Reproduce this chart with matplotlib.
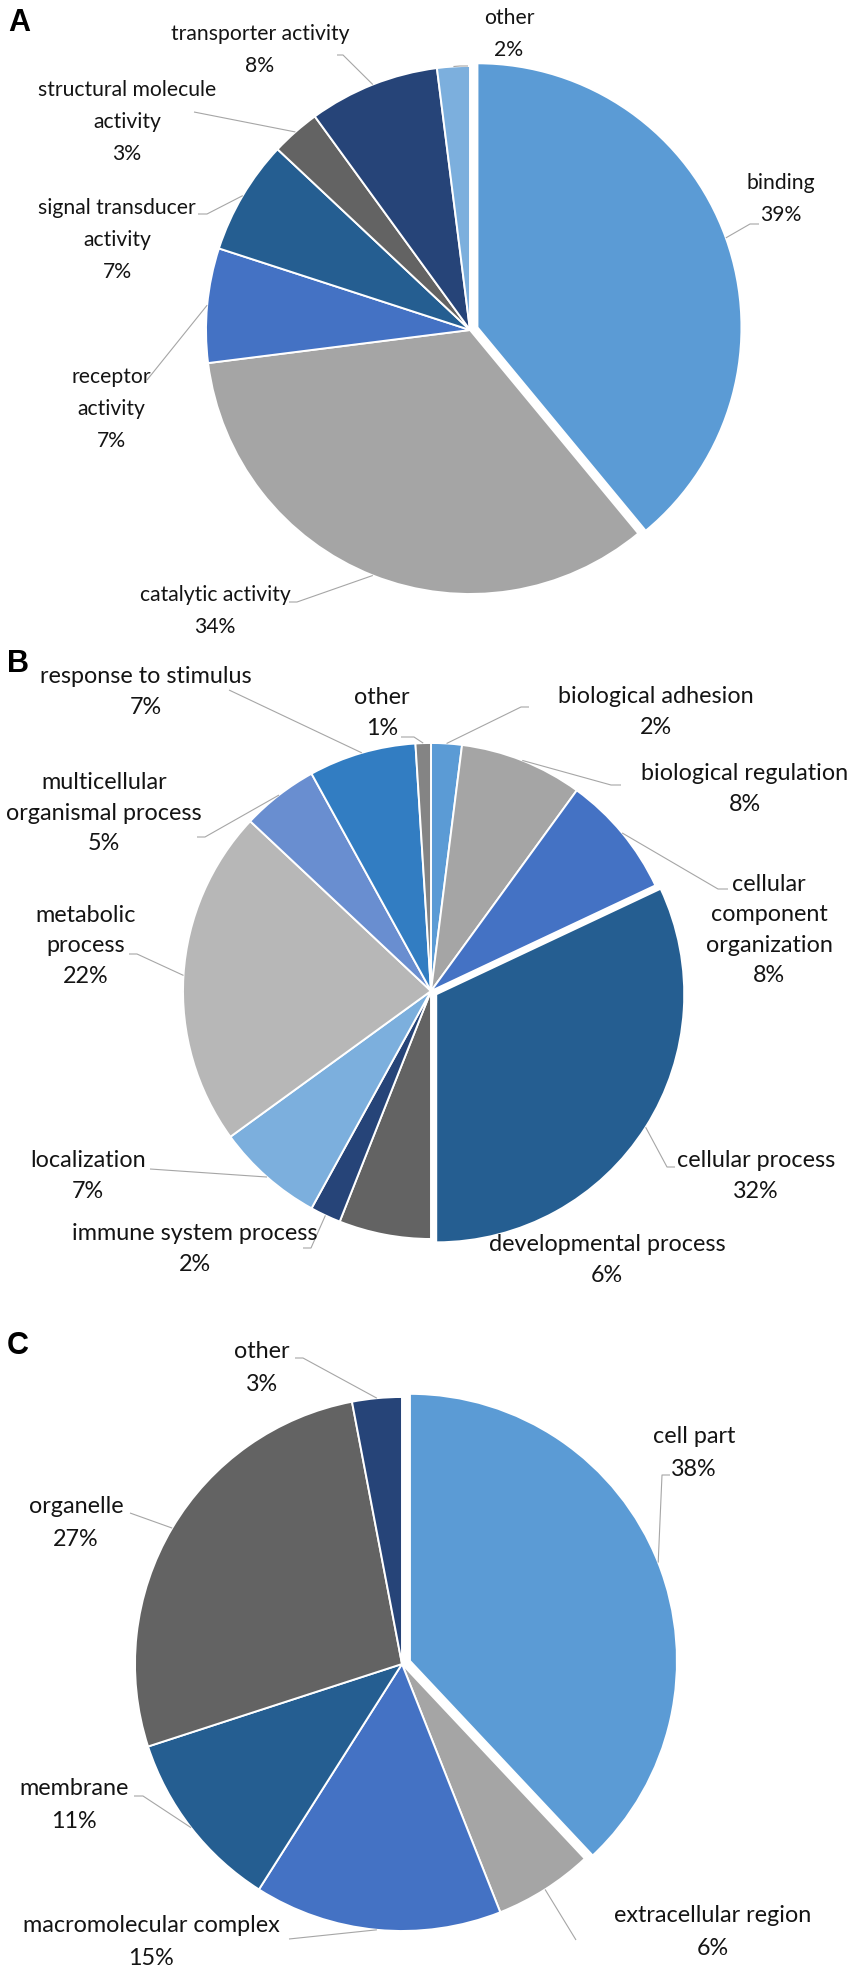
import matplotlib
matplotlib.use("Agg")
import matplotlib.pyplot as plt
import numpy as np

# ---------------- data ----------------
a_names = ["binding", "catalytic activity", "receptor\nactivity", "signal transducer\nactivity",
           "structural molecule\nactivity", "transporter activity", "other"]
a_values = [39, 34, 7, 7, 3, 8, 2]
a_colors = ["#5B9BD5", "#A5A5A5", "#4472C4", "#255E91", "#636363", "#264478", "#7CAFDD"]

b_names = ["biological adhesion", "biological regulation", "cellular\ncomponent\norganization",
           "cellular process", "developmental process", "immune system process", "localization",
           "metabolic\nprocess", "multicellular\norganismal process", "response to stimulus", "other"]
b_values = [2, 8, 8, 32, 6, 2, 7, 22, 5, 7, 1]
b_colors = ["#5B9BD5", "#A5A5A5", "#4472C4", "#255E91", "#636363", "#264478", "#7CAFDD",
            "#B7B7B7", "#698ED0", "#327DC2", "#848484"]

c_names = ["cell part", "extracellular region", "macromolecular complex", "membrane", "organelle", "other"]
c_values = [38, 6, 15, 11, 27, 3]
c_colors = ["#5B9BD5", "#A5A5A5", "#4472C4", "#255E91", "#636363", "#264478"]

# ---------------- layout (pixel coordinates) ----------------
a_explode = [0.03, 0, 0, 0, 0, 0, 0]
b_explode = [0, 0, 0, 0.025, 0, 0, 0, 0, 0, 0, 0]
c_explode = [0.032, 0, 0, 0, 0, 0]

a_center, a_radius = (470, 330), 264
b_center, b_radius = (431, 991), 248
c_center, c_radius = (402, 1664), 267

a_label_pos = [(781, 199), (215, 611), (111, 409), (117, 240), (127, 122), (260, 50), (509, 34)]
a_tails = [[(750, 224), (759, 224)], [(297, 602), (289, 602)], [(147, 380)],
           [(207, 214), (198, 214)], [(194, 112)], [(343, 55), (337, 55)], [(460, 66), (468, 66)]]

b_label_pos = [(656, 712), (745, 789), (769, 930), (756, 1176), (607, 1260), (195, 1249),
               (88, 1176), (86, 946), (104, 813), (146, 692), (382, 713)]
b_tails = [[(521, 707), (529, 707)], [(611, 785), (621, 785)], [(718, 889), (728, 889)],
           [(667, 1167), (675, 1167)], None, [(311, 1248), (303, 1248)], [(150, 1169)],
           [(137, 954), (129, 954)], [(205, 837), (197, 837)], [(229, 690)],
           [(414, 737), (401, 737)]]

c_label_pos = [(694, 1453), (713, 1932), (151, 1942), (74, 1805), (76, 1523), (262, 1368)]
c_tails = [[(662, 1475), (670, 1475)], [(576, 1940)], [(289, 1939)],
           [(143, 1796), (134, 1796)], [(130, 1513)], [(303, 1358), (295, 1358)]]

W, H = 851, 1972
fig = plt.figure(figsize=(W / 100, H / 100), dpi=100)
ax = fig.add_axes([0, 0, 1, 1])

TEXT_COLOR = "#141414"
LINE_COLOR = "#a6a6a6"


def draw_pie(values, names, colors, explode, center, radius, label_pos, tails,
             fontsize, family, linespacing):
    wedges, _ = ax.pie(values, colors=colors, explode=[e * radius for e in explode],
                       startangle=-90, counterclock=True, center=center, radius=radius,
                       wedgeprops=dict(edgecolor="white", linewidth=1.4))
    for w, v, n, lp, tail in zip(wedges, values, names, label_pos, tails):
        ax.text(lp[0], lp[1], f"{n}\n{v}%", ha="center", va="center", multialignment="center",
                fontsize=fontsize, family=family, color=TEXT_COLOR, linespacing=linespacing)
        if tail is not None:
            mid = np.deg2rad((w.theta1 + w.theta2) / 2)
            cx, cy = w.center
            pts = [(cx + w.r * np.cos(mid), cy + w.r * np.sin(mid))] + list(tail)
            xs, ys = zip(*pts)
            ax.plot(xs, ys, color=LINE_COLOR, lw=0.8, solid_capstyle="butt")


draw_pie(a_values, a_names, a_colors, a_explode, a_center, a_radius, a_label_pos, a_tails,
         15.2, ["Lato"], 1.73)
draw_pie(b_values, b_names, b_colors, b_explode, b_center, b_radius, b_label_pos, b_tails,
         16.8, ["Lato"], 1.56)
draw_pie(c_values, c_names, c_colors, c_explode, c_center, c_radius, c_label_pos, c_tails,
         16.8, ["Lato"], 1.66)

for letter, (x, y) in zip(["A", "B", "C"], [(19, 23), (18, 664), (18, 1346)]):
    ax.text(x, y, letter, ha="center", va="center", fontsize=22, fontweight="bold",
            family="Liberation Sans", color="black")

ax.set_xlim(0, W)
ax.set_ylim(H, 0)
ax.set_aspect("auto")
ax.axis("off")

fig.savefig("out.png", dpi=100, facecolor="white")
